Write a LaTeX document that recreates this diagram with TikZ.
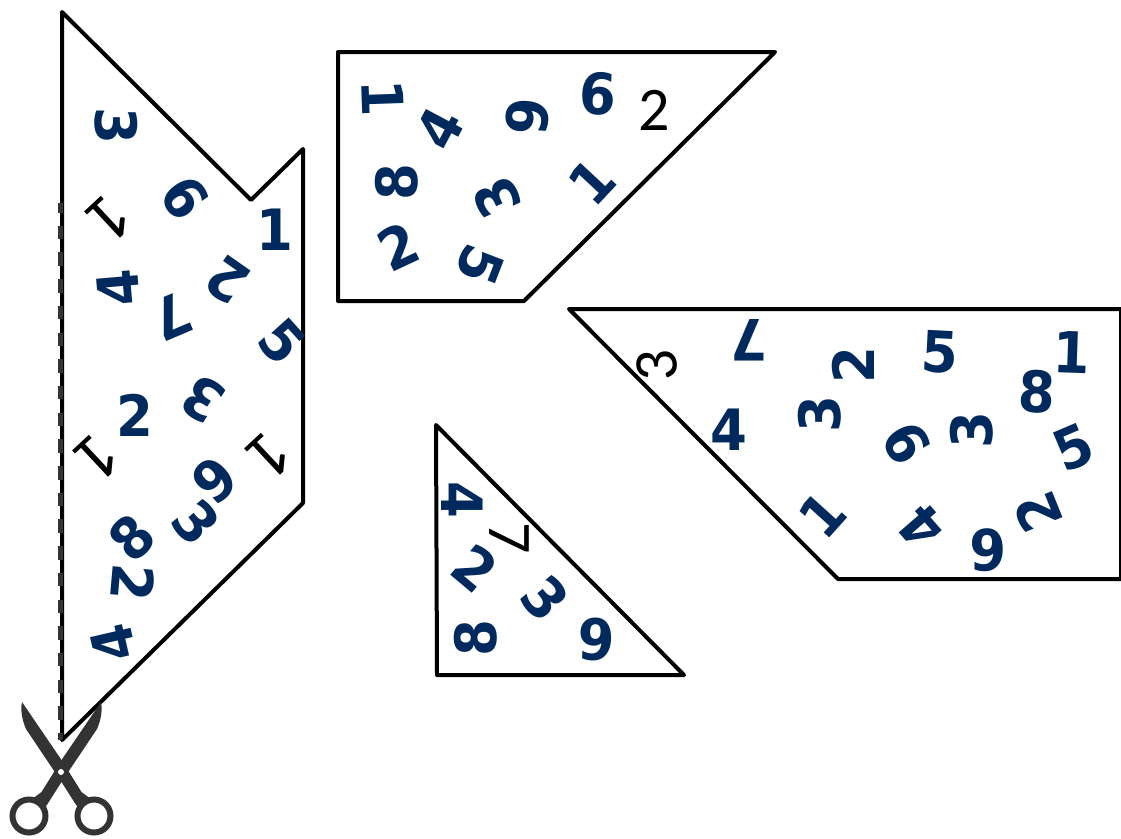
\documentclass[tikz,border=0pt]{standalone}
\usepackage{fontspec}
\newfontfamily\digitfont{DejaVu Sans Bold}[FakeStretch=0.93]
\newfontfamily\thinfont{Carlito}
\definecolor{digitblue}{HTML}{002A5E}
\definecolor{scissorgray}{HTML}{333333}
\tikzset{
  piece/.style={draw=black,line width=4pt,line join=round,line cap=round},
  numeral/.style={inner sep=0pt,text=digitblue,font=\fontsize{57}{57}\digitfont},
  thinnumeral/.style={inner sep=0pt,text=black,font=\fontsize{62}{62}\thinfont},
  thinone/.style={inner sep=0pt,text=black,font=\fontsize{68}{68}\thinfont},
  cutline/.style={draw=scissorgray,line width=5pt,dash pattern=on 13.5pt off 13.2pt,dash phase=6.5pt},
  blade/.style={fill=scissorgray,draw=none}
}
\begin{document}
\begin{tikzpicture}[x=1pt,y=-1pt]
  \useasboundingbox (0,0) rectangle (1121,838);
  % the four pieces
  \draw[piece] (62,12)--(251,200)--(303,149)--(303,503)--(62,740)--cycle;
  \draw[piece] (338,52)--(775,52)--(524,301)--(338,301)--cycle;
  \draw[piece] (569,309)--(1121,309)--(1121,579)--(838,579)--cycle;
  \draw[piece] (436,425)--(684,675)--(437,675)--cycle;
  \draw[cutline] (60.5,740)--(60.5,203);
  % left piece
  \foreach \x/\y/\d/\r [count=\n] in {116/126/3/-90,185/198/6/-55,275/230/1/0,227/280/2/145,118/288/4/95,
      172/317/7/-157,282/342/5/-48,203/399/3/148,135/415/2/0,215/480/6/-138,196/522/3/-50,
      132/538/8/45,133/583/2/-95,113/643/4/103}
    \node[numeral,rotate=\r] (left\n) at (\x,\y) {\d};
  \foreach \x/\y/\r [count=\n] in {110/218/-137,98/457/-137,270/455/-137}
    \node[thinone,rotate=\r] (leftthin\n) at (\x,\y) {1};
  % top piece
  \foreach \x/\y/\d/\r [count=\n] in {383/98/1/-88,440/128/4/62,528/117/6/-95,598/94/6/-3,397/182/8/90,
      592/182/1/47,497/198/3/115,398/247/2/25,480/265/5/-111}
    \node[numeral,rotate=\r] (top\n) at (\x,\y) {\d};
  \node[thinnumeral] (topthin) at (654,110) {2};
  % right piece
  \foreach \x/\y/\d/\r [count=\n] in {749/340/7/180,853/365/2/90,820/414/3/90,729/430/4/0,822/515/1/48,
      940/352/5/-3,1072/352/1/-2,1037/392/8/-3,972/430/3/90,907/443/6/-60,1073/448/5/23,
      1038/512/2/112,988/550/6/180,922/527/4/131}
    \node[numeral,rotate=\r] (right\n) at (\x,\y) {\d};
  \node[thinnumeral,rotate=92] (rightthin) at (657,365) {3};
  % triangle
  \foreach \x/\y/\d/\r [count=\n] in {462/500/4/-90,475/568/2/-40,545/598/3/-50,476/638/8/90,596/640/6/178}
    \node[numeral,rotate=\r] (tri\n) at (\x,\y) {\d};
  \node[thinnumeral,rotate=-90] (trithin) at (509,538) {7};
  % scissors
  \foreach \m/\c in {1/94,-1/29} {
    \begin{scope}[xshift=61.5pt,xscale=\m]
      \fill[blade] (-39.5,702) .. controls (-41.5,712) and (-38.5,722) .. (-35.5,729)
        -- (0,782) -- (14,804) -- (17,808) -- (28,798) -- (20,792) -- (0,760) -- cycle;
    \end{scope}
    \draw[scissorgray,line width=6pt] (\c,816) circle[radius=16.5];
  }
  \fill[white] (61,772) circle[radius=3];
\end{tikzpicture}
\end{document}
